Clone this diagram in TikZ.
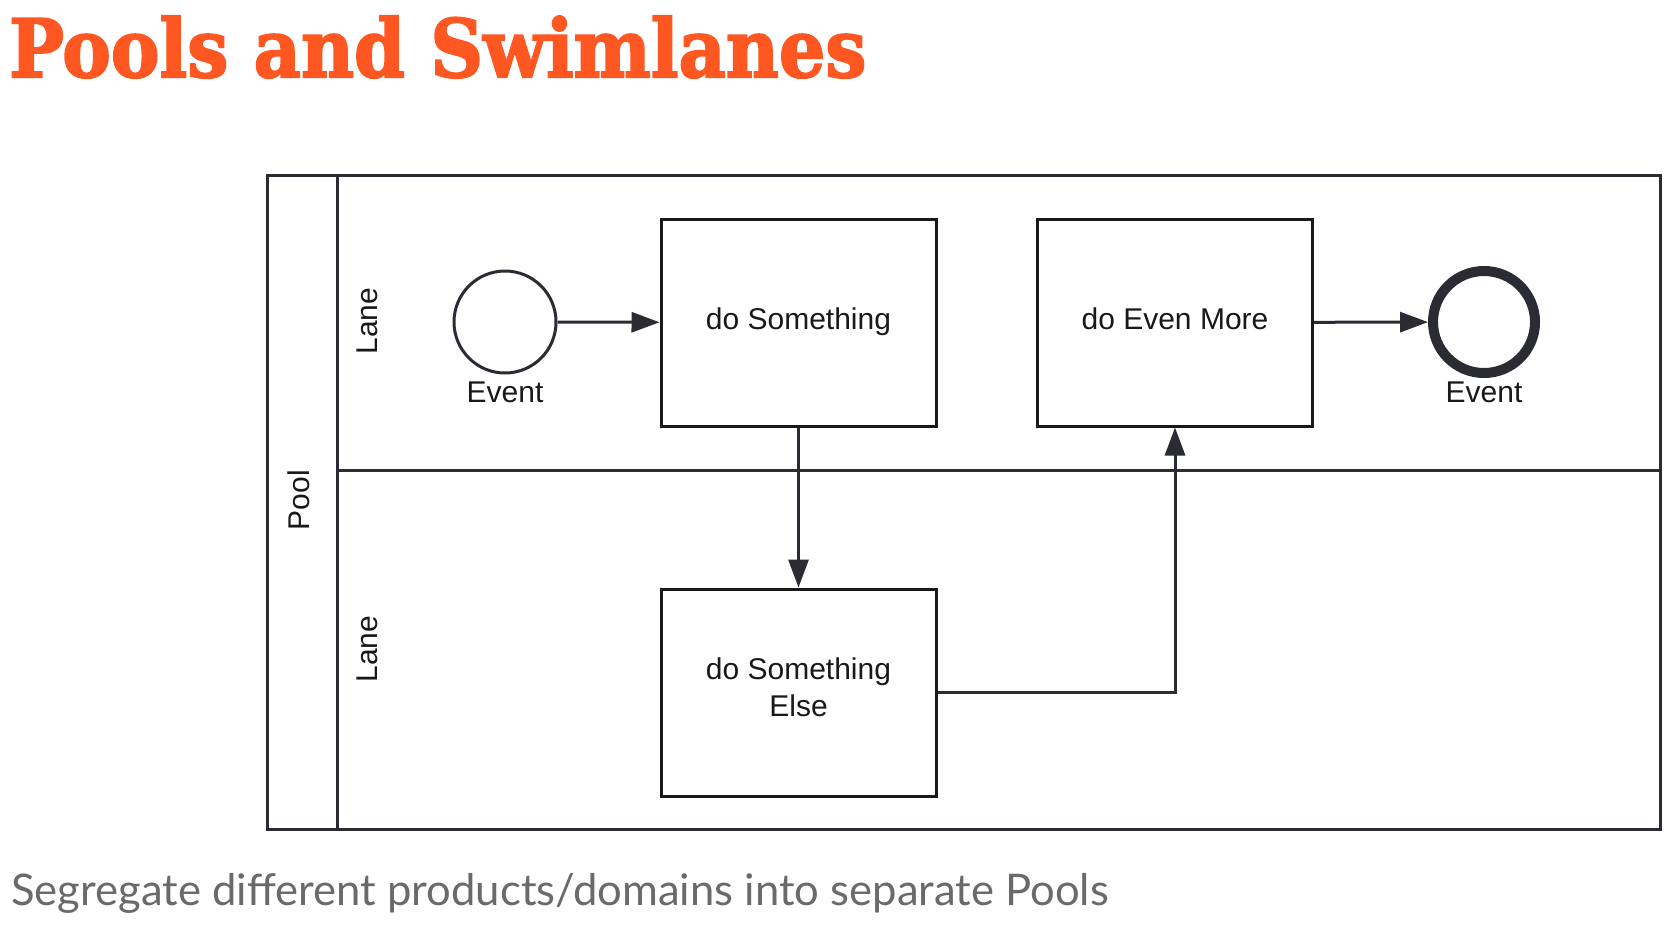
\documentclass[tikz,border=0pt]{standalone}
\usepackage{fontspec}
\setmainfont{Liberation Sans}
\newfontfamily\titlefont{DejaVu Serif}[FakeBold=2.5]
\newfontfamily\subfont{Lato}
\usetikzlibrary{arrows.meta}
\definecolor{ttl}{HTML}{FF5722}
\definecolor{ink}{HTML}{2B2B33}
\definecolor{subgray}{HTML}{6A6A6A}
\tikzset{
  poolline/.style={draw=ink, line width=3pt},
  taskbox/.style={draw=black!90, line width=3pt, minimum width=275pt, minimum height=207pt, inner sep=0pt, align=center, font=\fontsize{30}{37}\selectfont},
  startev/.style={circle, draw=ink, line width=3pt, minimum size=102pt, inner sep=0pt},
  endev/.style={circle, draw=ink, line width=10pt, minimum size=102pt, inner sep=0pt},
  lbl/.style={inner sep=0pt, font=\fontsize{30}{36}\selectfont, text=black!90},
  conn/.style={draw=ink, line width=3pt, -{Triangle[length=28pt,width=20pt]}},
}
\begin{document}
\begin{tikzpicture}[x=1pt,y=-1pt]
\useasboundingbox[fill=white] (0,0) rectangle (1669,930);
% title and subtitle
\node[anchor=base west, inner sep=0pt] (title) at (9,77) {\resizebox{857pt}{61pt}{\color{ttl}\titlefont\bfseries Pools and Swimlanes}};
\node[anchor=base west, inner sep=0pt, text=subgray] (sub) at (11,905) {\subfont\fontsize{43.6}{50}\selectfont Segregate different products/domains into separate Pools};
% pool and lanes
\draw[poolline] (267,175) rectangle (1660,829);
\draw[poolline] (337,175) -- (337,829);
\draw[poolline] (337,470) -- (1660,470);
\node[lbl, rotate=90] (pool) at (299,500) {Pool};
\node[lbl, rotate=90] (lane1) at (367,321) {Lane};
\node[lbl, rotate=90] (lane2) at (367,649) {Lane};
% elements
\node[startev] (ev1) at (505,322) {};
\node[lbl] (ev1l) at (505,392) {Event};
\node[taskbox] (s1) at (798.5,322.5) {};
\node[lbl, anchor=base] (s1t) at (798.5,329) {do Something};
\node[taskbox] (s2) at (1175,322.5) {};
\node[lbl, anchor=base] (s2t) at (1175,329) {do Even More};
\node[taskbox] (s3) at (798.5,692.5) {};
\node[lbl, anchor=base] (s3t) at (798.5,679) {do Something};
\node[lbl, anchor=base] (s3u) at (798.5,716) {Else};
\node[endev] (ev2) at (1484,322) {};
\node[lbl] (ev2l) at (1484,392) {Event};
% connectors
\draw[conn] (ev1) -- (s1);
\draw[conn] (s1) -- (s3);
\draw[conn] (s3.east) -| (s2.south);
\draw[conn] (s2) -- (ev2);
\end{tikzpicture}
\end{document}
